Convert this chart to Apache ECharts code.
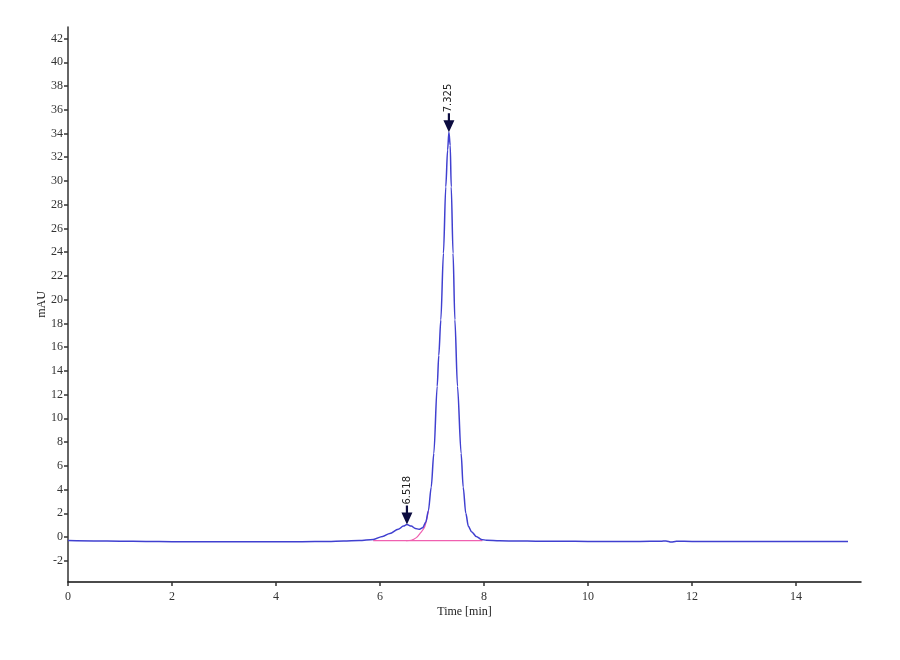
<!DOCTYPE html>
<html>
<head>
<meta charset="utf-8">
<script src="https://cdn.jsdelivr.net/npm/echarts@6/dist/echarts.min.js"></script>
<style>
    html, body { margin: 0; padding: 0; background: #fff; }
    #chart { width: 900px; height: 660px; }
</style>
</head>
<body>
<div id="chart"></div>
<script>
// chromatogram trace (time in min, signal in mAU)
var times = [0, 0.5, 1, 1.5, 2, 2.5, 3, 3.5, 4, 4.5, 5, 5.3, 5.6, 5.87, 6.05, 6.19, 6.35, 6.45, 6.518, 6.6, 6.68, 6.75, 6.82, 6.88, 6.93, 6.985, 7.035, 7.1, 7.13, 7.17, 7.22, 7.265, 7.3, 7.325, 7.35, 7.37, 7.405, 7.44, 7.49, 7.56, 7.6, 7.65, 7.7, 7.76, 7.85, 7.95, 8.05, 8.3, 8.66, 9, 9.5, 10, 10.5, 11, 11.4, 11.5, 11.6, 11.7, 12, 12.5, 13, 13.5, 14, 14.5, 15];
var signal = [-0.3, -0.33, -0.35, -0.37, -0.39, -0.4, -0.4, -0.4, -0.4, -0.39, -0.38, -0.34, -0.3, -0.2, 0.05, 0.3, 0.65, 0.92, 1.05, 0.92, 0.72, 0.65, 0.78, 1.25, 2.2, 4.2, 7.05, 12.7, 15.3, 18.3, 23.9, 29.5, 32.6, 34.1, 33.0, 29.5, 23.9, 18.3, 12.7, 7.05, 4.2, 2.0, 0.9, 0.45, 0.05, -0.2, -0.28, -0.32, -0.34, -0.35, -0.36, -0.37, -0.37, -0.37, -0.36, -0.33, -0.42, -0.36, -0.37, -0.37, -0.38, -0.38, -0.38, -0.38, -0.38];

// integration baseline and deconvolved tail of the main peak
var baseTimes = [5.87, 7.97];
var baseSignal = [-0.3, -0.3];
var tailTimes = [6.5, 6.6, 6.7, 6.77, 6.86, 6.93];
var tailSignal = [-0.3, -0.27, -0.05, 0.3, 0.87, 2.2];

// peak labels
var peakTimes = [6.518, 7.325];
var peakHeights = [1.05, 34.1];

var xTicks = [0, 2, 4, 6, 8, 10, 12, 14];
var yTicks = [-2, 0, 2, 4, 6, 8, 10, 12, 14, 16, 18, 20, 22, 24, 26, 28, 30, 32, 34, 36, 38, 40, 42];

function pairs(xs, ys) {
    return xs.map(function (x, i) { return [x, ys[i]]; });
}

var chart = echarts.init(document.getElementById('chart'));
var serif = 'Liberation Serif';
var arrow = 'path://M4,0 L6,0 L6,7 L10,7 L5,19 L0,7 L4,7 Z';

chart.setOption({
    backgroundColor: '#fff',
    animation: false,
    grid: { left: 68, right: 39, top: 27, bottom: 78 },
    xAxis: {
        type: 'value',
        min: 0,
        max: 15.25,
        name: 'Time [min]',
        nameLocation: 'middle',
        nameGap: 24,
        nameMoveOverlap: false,
        nameTextStyle: { fontFamily: serif, fontSize: 12, color: '#222' },
        axisLine: { onZero: false, lineStyle: { color: '#111', width: 1.5 } },
        axisTick: { customValues: xTicks, length: 4, lineStyle: { color: '#333', width: 1.5 } },
        axisLabel: { customValues: xTicks, fontFamily: serif, fontSize: 12, color: '#333', margin: 9 },
        splitLine: { show: false }
    },
    yAxis: {
        type: 'value',
        min: -3.79,
        max: 42.97,
        name: 'mAU',
        nameLocation: 'middle',
        nameGap: 20,
        nameRotate: 90,
        nameMoveOverlap: false,
        nameTextStyle: { fontFamily: serif, fontSize: 12, color: '#222' },
        axisLine: { onZero: false, lineStyle: { color: '#333', width: 1.5 } },
        axisTick: { customValues: yTicks, length: 4, lineStyle: { color: '#333', width: 1.5 } },
        axisLabel: { customValues: yTicks, fontFamily: serif, fontSize: 12, color: '#333', margin: 5 },
        splitLine: { show: false }
    },
    series: [
        {
            type: 'line',
            data: pairs(baseTimes, baseSignal),
            symbol: 'none',
            lineStyle: { color: '#f060b0', width: 1.2 },
            z: 1
        },
        {
            type: 'line',
            data: pairs(tailTimes, tailSignal),
            symbol: 'none',
            smooth: 0.3,
            lineStyle: { color: '#f060b0', width: 1.2 },
            z: 1
        },
        {
            type: 'line',
            data: pairs(times, signal),
            symbol: 'none',
            smooth: 0.3,
            smoothMonotone: 'x',
            lineStyle: { color: '#4040d0', width: 1.5 },
            z: 2,
            markPoint: {
                symbol: arrow,
                symbolSize: [11, 19],
                symbolOffset: [0, '-50%'],
                itemStyle: { color: '#0c0c40' },
                label: {
                    show: true,
                    position: 'top',
                    distance: 1,
                    rotate: 90,
                    align: 'left',
                    verticalAlign: 'middle',
                    fontFamily: 'DejaVu Sans',
                    fontSize: 10,
                    color: '#222',
                    formatter: function (p) { return p.value; }
                },
                data: peakTimes.map(function (t, i) {
                    return { coord: [t, peakHeights[i]], value: t.toFixed(3) };
                })
            }
        }
    ]
});
</script>
</body>
</html>
